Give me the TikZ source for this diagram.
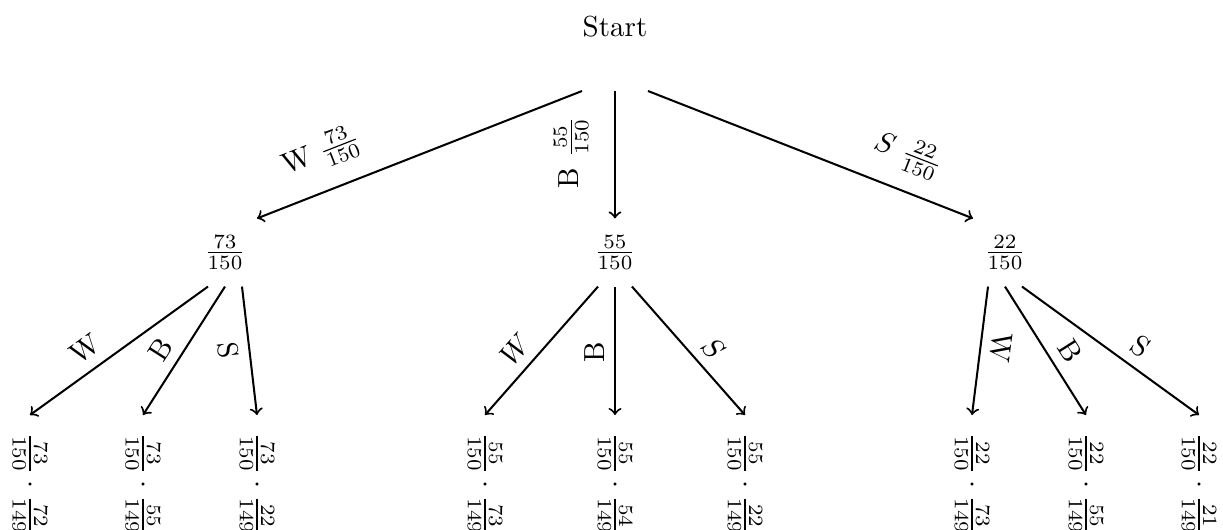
\documentclass[tikz,border=0pt]{standalone}
\begin{document}
\begin{tikzpicture}[x=0.3448pt,y=-0.3448pt,
  arr/.style={->,line width=0.7pt},
  lvl/.style={inner sep=0pt,minimum height=23.1pt},
  leaf/.style={rotate=-90,anchor=west,inner xsep=5.86pt,inner ysep=2pt},
  lab/.style={sloped,inner sep=3.33pt}]
\useasboundingbox (0,0) rectangle (1223,529);
% root
\node (start) at (615,27) {Start};
\coordinate (foot) at (615,91);
% first level
\node[lvl] (a) at (225,252.5) {$\frac{73}{150}$};
\node[lvl] (b) at (615,252.5) {$\frac{55}{150}$};
\node[lvl] (c) at (1005,252.5) {$\frac{22}{150}$};
\draw[arr] ([xshift=-11.38pt]foot) -- node[pos=0.76,sloped,above=3.4pt] {W $\frac{73}{150}$} ([xshift=11.03pt]a.north);
\draw[arr] (foot) -- node[pos=0.48,rotate=90,above=5.5pt] {B $\frac{55}{150}$} (b.north);
\draw[arr] ([xshift=11.38pt]foot) -- node[pos=0.76,sloped,above=2.8pt] {$S$ $\frac{22}{150}$} ([xshift=-11.03pt]c.north);
% leaves
\node[leaf] (a1) at (30,415) {$\frac{73}{150}\cdot\frac{72}{149}$};
\node[leaf] (a2) at (143,415) {$\frac{73}{150}\cdot\frac{55}{149}$};
\node[leaf] (a3) at (257,415) {$\frac{73}{150}\cdot\frac{22}{149}$};
\node[leaf] (b1) at (485,415) {$\frac{55}{150}\cdot\frac{73}{149}$};
\node[leaf] (b2) at (615,415) {$\frac{55}{150}\cdot\frac{54}{149}$};
\node[leaf] (b3) at (745,415) {$\frac{55}{150}\cdot\frac{22}{149}$};
\node[leaf] (c1) at (972,415) {$\frac{22}{150}\cdot\frac{73}{149}$};
\node[leaf] (c2) at (1086,415) {$\frac{22}{150}\cdot\frac{55}{149}$};
\node[leaf] (c3) at (1199,415) {$\frac{22}{150}\cdot\frac{21}{149}$};
% second level edges
\draw[arr] ([xshift=-5.86pt]a.south) -- node[lab,above,pos=0.62] {W} (a1.west);
\draw[arr] (a.south) -- node[lab,above,pos=0.575] {B} (a2.west);
\draw[arr] ([xshift=5.86pt]a.south) -- node[lab,below,pos=0.475] {S} (a3.west);
\draw[arr] ([xshift=-5.86pt]b.south) -- node[lab,above,pos=0.594] {$W$} (b1.west);
\draw[arr] (b.south) -- node[inner sep=3.33pt,rotate=90,anchor=south,pos=0.51] {B} (b2.west);
\draw[arr] ([xshift=5.86pt]b.south) -- node[lab,above,pos=0.583] {$S$} (b3.west);
\draw[arr] ([xshift=-5.86pt]c.south) -- node[inner sep=3.33pt,rotate=-97.6,anchor=south,pos=0.45] {W} (c1.west);
\draw[arr] (c.south) -- node[lab,above,pos=0.587] {B} (c2.west);
\draw[arr] ([xshift=5.86pt]c.south) -- node[lab,above,pos=0.60] {S} (c3.west);
\end{tikzpicture}
\end{document}
